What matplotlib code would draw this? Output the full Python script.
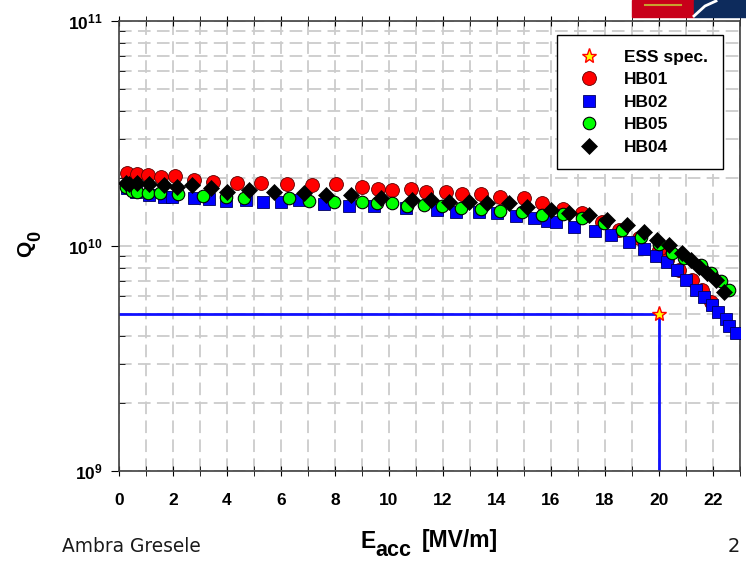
import matplotlib as mpl
import matplotlib.pyplot as plt
from matplotlib.ticker import MultipleLocator, LogLocator, FixedLocator, FixedFormatter, NullFormatter
from matplotlib.patches import Rectangle

mpl.rcParams['font.family'] = ['Liberation Sans', 'DejaVu Sans']
mpl.rcParams['mathtext.fontset'] = 'custom'
mpl.rcParams['mathtext.rm'] = 'Liberation Sans'
mpl.rcParams['mathtext.bf'] = 'Liberation Sans:bold'

# Q0 vs Eacc
hb01_e = [0.30, 0.67, 1.07, 1.56, 2.07, 2.78, 3.48, 4.37, 5.26, 6.22, 7.15, 8.04, 9.0, 9.59,
          10.11, 10.81, 11.37, 12.11, 12.70, 13.41, 14.11, 15.0, 15.67, 16.44, 17.15, 17.89,
          18.52, 19.26, 20.0, 20.30, 20.74, 21.22, 21.59, 21.93]
hb01_q = [2.11e10, 2.09e10, 2.07e10, 2.03e10, 2.05e10, 1.97e10, 1.92e10, 1.90e10, 1.90e10,
          1.89e10, 1.87e10, 1.89e10, 1.83e10, 1.79e10, 1.77e10, 1.79e10, 1.74e10, 1.74e10,
          1.70e10, 1.70e10, 1.65e10, 1.63e10, 1.55e10, 1.46e10, 1.40e10, 1.28e10, 1.18e10,
          1.09e10, 9.6e9, 8.7e9, 7.8e9, 7.06e9, 6.37e9, 5.63e9]

hb02_e = [0.30, 0.63, 1.11, 1.67, 1.96, 2.78, 3.33, 3.96, 4.70, 5.33, 6.0, 6.67, 7.59, 8.52,
          9.44, 10.63, 11.78, 12.48, 13.33, 14.0, 14.70, 15.37, 15.85, 16.19, 16.85, 17.63,
          18.22, 18.89, 19.44, 19.89, 20.30, 20.67, 21.0, 21.37, 21.67, 21.96, 22.19, 22.48,
          22.59, 22.85]
hb02_q = [1.81e10, 1.74e10, 1.69e10, 1.65e10, 1.65e10, 1.63e10, 1.62e10, 1.58e10, 1.60e10,
          1.57e10, 1.57e10, 1.60e10, 1.54e10, 1.51e10, 1.51e10, 1.48e10, 1.45e10, 1.42e10,
          1.42e10, 1.40e10, 1.36e10, 1.33e10, 1.29e10, 1.28e10, 1.21e10, 1.17e10, 1.12e10,
          1.04e10, 9.7e9, 9.0e9, 8.5e9, 7.8e9, 7.06e9, 6.37e9, 5.93e9, 5.47e9, 5.1e9, 4.74e9,
          4.41e9, 4.1e9]

hb05_e = [0.26, 0.48, 0.67, 1.07, 1.52, 2.19, 3.11, 3.96, 4.63, 6.30, 7.04, 7.96, 9.0, 9.56,
          10.11, 10.67, 11.30, 11.96, 12.67, 13.41, 14.11, 14.93, 15.67, 16.44, 17.15, 17.96,
          18.63, 19.33, 20.0, 20.48, 20.93, 21.56, 21.93, 22.30, 22.59]
hb05_q = [1.83e10, 1.76e10, 1.74e10, 1.72e10, 1.72e10, 1.70e10, 1.67e10, 1.65e10, 1.63e10,
          1.63e10, 1.58e10, 1.57e10, 1.57e10, 1.55e10, 1.55e10, 1.51e10, 1.52e10, 1.51e10,
          1.48e10, 1.46e10, 1.43e10, 1.42e10, 1.37e10, 1.39e10, 1.33e10, 1.26e10, 1.18e10,
          1.10e10, 1.02e10, 9.3e9, 8.85e9, 8.2e9, 7.6e9, 7.0e9, 6.37e9]

hb04_e = [0.26, 0.37, 0.67, 1.11, 1.67, 2.15, 2.70, 3.41, 4.0, 4.81, 5.74, 6.85, 7.67, 8.59,
          9.70, 10.85, 11.56, 12.22, 12.96, 13.63, 14.44, 15.11, 16.0, 16.67, 17.41, 18.07,
          18.81, 19.44, 19.93, 20.37, 20.85, 21.19, 21.48, 21.78, 22.11, 22.41]
hb04_q = [1.90e10, 1.89e10, 1.90e10, 1.89e10, 1.87e10, 1.83e10, 1.87e10, 1.81e10, 1.74e10,
          1.77e10, 1.74e10, 1.72e10, 1.69e10, 1.69e10, 1.63e10, 1.60e10, 1.60e10, 1.57e10,
          1.57e10, 1.55e10, 1.55e10, 1.49e10, 1.45e10, 1.40e10, 1.37e10, 1.31e10, 1.24e10,
          1.15e10, 1.06e10, 1.01e10, 9.3e9, 8.7e9, 8.1e9, 7.6e9, 7.06e9, 6.25e9]

ess_e = 20.0
ess_q = 5e9

x_ticks = [0, 2, 4, 6, 8, 10, 12, 14, 16, 18, 20, 22]
y_ticks = [1e9, 1e10, 1e11]
y_labels = [r'$\mathbf{10^9}$', r'$\mathbf{10^{10}}$', r'$\mathbf{10^{11}}$']

W, H = 746, 561


def px(x, y):
    return x / W, 1 - y / H


fig = plt.figure(figsize=(7.46, 5.61), dpi=100)
ax = fig.add_axes([0.1595, 0.1604, 0.8324, 0.8021])
ax.set_yscale('log')
ax.set_xlim(0, 23)
ax.set_ylim(1e9, 1e11)

ax.grid(which='both', color='#cccccc', linestyle=(0, (7, 3.5)), linewidth=1.3, zorder=0)
ax.set_axisbelow(True)

# ESS spec lines
ax.plot([0, ess_e], [ess_q, ess_q], color='#1010ff', lw=2, zorder=2)
ax.plot([ess_e, ess_e], [1e9, ess_q], color='#1010ff', lw=2, zorder=2)

ax.plot(hb01_e, hb01_q, 'o', ms=10, mfc='#ff0000', mec='#600000', mew=0.6, label='HB01', zorder=3)
ax.plot(hb02_e, hb02_q, 's', ms=8, mfc='#0000ff', mec='#000060', mew=0.6, label='HB02', zorder=4)
ax.plot(hb05_e, hb05_q, 'o', ms=9, mfc='#00ff00', mec='black', mew=0.8, label='HB05', zorder=5)
ax.plot(hb04_e, hb04_q, 'D', ms=8, mfc='black', mec='black', mew=0.5, label='HB04', zorder=6)
ax.plot([ess_e], [ess_q], '*', ms=11, mfc='#ffff00', mec='#ff0000', mew=1.0,
        label='ESS spec.', zorder=7)

ax.xaxis.set_major_locator(FixedLocator(x_ticks))
ax.xaxis.set_minor_locator(MultipleLocator(1))
ax.set_xticklabels([str(t) for t in x_ticks], fontsize=12.5, fontweight='bold')
ax.yaxis.set_major_locator(FixedLocator(y_ticks))
ax.yaxis.set_major_formatter(FixedFormatter(y_labels))
ax.yaxis.set_minor_locator(LogLocator(base=10, subs=range(2, 10)))
ax.yaxis.set_minor_formatter(NullFormatter())
ax.tick_params(axis='y', which='major', direction='out', length=6, labelsize=12.5, pad=6)
ax.tick_params(axis='y', which='minor', direction='in', length=4)
ax.tick_params(axis='x', which='both', direction='inout', length=7, pad=12)
ax.tick_params(top=True, which='both')
for s in ax.spines.values():
    s.set_color('#404040')
    s.set_linewidth(1.2)

# axis titles, built from pieces so the subscripts keep near full size
fig.text(*px(360, 548), 'E', fontsize=16.5, fontweight='bold', va='baseline')
fig.text(*px(375, 556), 'acc', fontsize=15.5, fontweight='bold', va='baseline')
fig.text(*px(422, 547), '[MV/m]', fontsize=16.5, fontweight='bold', va='baseline')
fig.text(*px(26, 249), 'Q', fontsize=15, fontweight='bold', rotation=90, ha='center', va='center')
fig.text(*px(36, 236), '0', fontsize=13, fontweight='bold', rotation=90, ha='center', va='center')

handles, labels = ax.get_legend_handles_labels()
order = [4, 0, 1, 2, 3]
leg = ax.legend([handles[i] for i in order], [labels[i] for i in order],
                loc='upper right', bbox_to_anchor=(0.9726, 0.969), borderaxespad=0,
                fancybox=False, edgecolor='black', framealpha=1, labelspacing=0.42,
                borderpad=0.85, handletextpad=1.0, prop={'weight': 'bold', 'size': 12.5})
leg.get_frame().set_linewidth(1.0)
leg.set_zorder(10)

fig.text(*px(62, 546), 'Ambra Gresele', family='DejaVu Sans', fontsize=13.4,
         ha='left', va='center', color='#1a1a1a')
fig.text(*px(728, 546), '2', family='DejaVu Sans', fontsize=14,
         ha='left', va='center', color='#1a1a1a')

# partial logo at top right
fig.patches.append(Rectangle(px(632, 17), 62 / W, 17 / H,
                             transform=fig.transFigure, color='#c8001a', zorder=20))
fig.patches.append(Rectangle(px(694, 17), 52 / W, 17 / H,
                             transform=fig.transFigure, color='#0d2b5c', zorder=20))
fig.lines.append(plt.Line2D([645 / W, 681 / W], [1 - 5 / H, 1 - 5 / H],
                            transform=fig.transFigure, color='#c8a030', lw=1.5, zorder=21))
fig.lines.append(plt.Line2D([694 / W, 705 / W, 716 / W], [1 - 16 / H, 1 - 6 / H, 1 - 1 / H],
                            transform=fig.transFigure, color='white', lw=2, zorder=21))

fig.savefig('out.png', dpi=100)
